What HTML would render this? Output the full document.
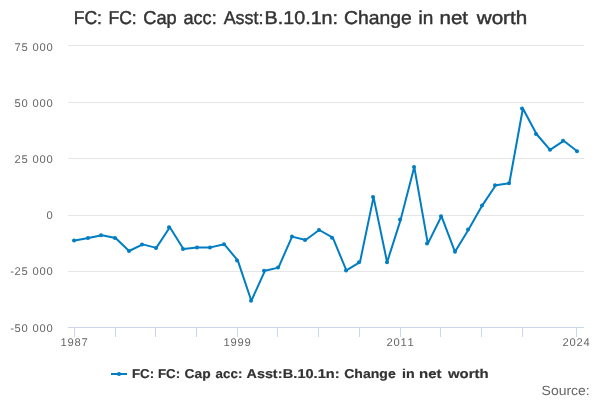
<!DOCTYPE html>
<html><head><meta charset="utf-8"><title>chart</title>
<style>
html,body{margin:0;padding:0;background:#fff;}
body{width:600px;height:400px;overflow:hidden;font-family:"Liberation Sans",sans-serif;}
svg{display:block;font-family:"Liberation Sans",sans-serif;}
text{text-rendering:geometricPrecision;}
</style></head><body>
<div style="width:600px;height:400px;will-change:transform"><svg width="600" height="400" viewBox="0 0 600 400">
<rect x="0" y="0" width="600" height="400" fill="#ffffff"/>
<g stroke="#e6e6e6" stroke-width="1" fill="none"><path d="M 68 45.5 L 584 45.5"/><path d="M 68 102.5 L 584 102.5"/><path d="M 68 158.5 L 584 158.5"/><path d="M 68 215.5 L 584 215.5"/><path d="M 68 271.5 L 584 271.5"/></g>
<g stroke="#ccd6eb" stroke-width="1" fill="none"><path d="M 74.5 328 L 74.5 337"/><path d="M 115.5 328 L 115.5 337"/><path d="M 155.5 328 L 155.5 337"/><path d="M 196.5 328 L 196.5 337"/><path d="M 237.5 328 L 237.5 337"/><path d="M 277.5 328 L 277.5 337"/><path d="M 318.5 328 L 318.5 337"/><path d="M 359.5 328 L 359.5 337"/><path d="M 400.5 328 L 400.5 337"/><path d="M 440.5 328 L 440.5 337"/><path d="M 481.5 328 L 481.5 337"/><path d="M 522.5 328 L 522.5 337"/><path d="M 576.5 328 L 576.5 337"/><path d="M 68 327.5 L 584 327.5"/></g>
<path d="M 74.79 240.50 L 88.37 238.00 L 101.95 235.20 L 115.53 238.00 L 129.11 251.00 L 142.68 244.40 L 156.26 247.90 L 169.84 227.20 L 183.42 249.00 L 197.00 247.50 L 210.58 247.40 L 224.16 244.20 L 237.74 260.40 L 251.32 300.80 L 264.89 270.80 L 278.47 267.60 L 292.05 236.60 L 305.63 240.00 L 319.21 230.00 L 332.79 237.70 L 346.37 270.40 L 359.95 262.20 L 373.53 197.10 L 387.11 262.20 L 400.68 219.60 L 414.26 166.90 L 427.84 243.60 L 441.42 216.20 L 455.00 251.80 L 468.58 229.40 L 482.16 205.60 L 495.74 185.20 L 509.32 183.20 L 522.89 108.50 L 536.47 134.00 L 550.05 149.80 L 563.63 140.80 L 577.21 151.20" fill="none" stroke="#007dc3" stroke-width="2" stroke-linejoin="round" stroke-linecap="round"/>
<g fill="#007dc3"><circle cx="74" cy="240.50" r="2"/><circle cx="88" cy="238.00" r="2"/><circle cx="101" cy="235.20" r="2"/><circle cx="115" cy="238.00" r="2"/><circle cx="129" cy="251.00" r="2"/><circle cx="142" cy="244.40" r="2"/><circle cx="156" cy="247.90" r="2"/><circle cx="169" cy="227.20" r="2"/><circle cx="183" cy="249.00" r="2"/><circle cx="197" cy="247.50" r="2"/><circle cx="210" cy="247.40" r="2"/><circle cx="224" cy="244.20" r="2"/><circle cx="237" cy="260.40" r="2"/><circle cx="251" cy="300.80" r="2"/><circle cx="264" cy="270.80" r="2"/><circle cx="278" cy="267.60" r="2"/><circle cx="292" cy="236.60" r="2"/><circle cx="305" cy="240.00" r="2"/><circle cx="319" cy="230.00" r="2"/><circle cx="332" cy="237.70" r="2"/><circle cx="346" cy="270.40" r="2"/><circle cx="359" cy="262.20" r="2"/><circle cx="373" cy="197.10" r="2"/><circle cx="387" cy="262.20" r="2"/><circle cx="400" cy="219.60" r="2"/><circle cx="414" cy="166.90" r="2"/><circle cx="427" cy="243.60" r="2"/><circle cx="441" cy="216.20" r="2"/><circle cx="455" cy="251.80" r="2"/><circle cx="468" cy="229.40" r="2"/><circle cx="482" cy="205.60" r="2"/><circle cx="495" cy="185.20" r="2"/><circle cx="509" cy="183.20" r="2"/><circle cx="522" cy="108.50" r="2"/><circle cx="536" cy="134.00" r="2"/><circle cx="550" cy="149.80" r="2"/><circle cx="563" cy="140.80" r="2"/><circle cx="577" cy="151.20" r="2"/></g>
<path d="M 111 374 L 127 374" stroke="#007dc3" stroke-width="2" fill="none"/>
<circle cx="119" cy="374" r="2" fill="#007dc3"/>
<g>
<text x="14.39 21.39 28.44 32.39 39.39 46.39" y="51" font-size="11.2px" fill="#666666">75 000</text>
<text x="14.39 21.39 28.44 32.39 39.39 46.39" y="107" font-size="11.2px" fill="#666666">50 000</text>
<text x="14.39 21.39 28.44 32.39 39.39 46.39" y="163" font-size="11.2px" fill="#666666">25 000</text>
<text x="46.39" y="219" font-size="11.2px" fill="#666666">0</text>
<text x="10.14 14.39 21.39 28.44 32.39 39.39 46.39" y="275" font-size="11.2px" fill="#666666">-25 000</text>
<text x="10.14 14.39 21.39 28.44 32.39 39.39 46.39" y="332" font-size="11.2px" fill="#666666">-50 000</text>
<text x="60.39 67.39 74.39 81.39" y="346" font-size="11.2px" fill="#666666">1987</text>
<text x="223.39 230.39 237.39 244.39" y="346" font-size="11.2px" fill="#666666">1999</text>
<text x="386.39 393.39 400.39 407.39" y="346" font-size="11.2px" fill="#666666">2011</text>
<text x="562.39 569.39 576.39 583.39" y="346" font-size="11.2px" fill="#666666">2024</text>
<text x="73.73" y="23.8" font-size="18.7px" fill="#333333" stroke="#333333" stroke-width="0.45" textLength="28.28" lengthAdjust="spacingAndGlyphs">FC:</text>
<text x="108.43" y="23.8" font-size="18.7px" fill="#333333" stroke="#333333" stroke-width="0.45" textLength="28.32" lengthAdjust="spacingAndGlyphs">FC:</text>
<text x="143.25" y="23.8" font-size="18.7px" fill="#333333" stroke="#333333" stroke-width="0.45" textLength="33.41" lengthAdjust="spacingAndGlyphs">Cap</text>
<text x="183.47" y="23.8" font-size="18.7px" fill="#333333" stroke="#333333" stroke-width="0.45" textLength="33.22" lengthAdjust="spacingAndGlyphs">acc:</text>
<text x="223.73" y="23.8" font-size="18.7px" fill="#333333" stroke="#333333" stroke-width="0.45" textLength="39.68" lengthAdjust="spacingAndGlyphs">Asst:</text>
<text x="264.62" y="23.8" font-size="18.7px" fill="#333333" stroke="#333333" stroke-width="0.45" textLength="73.47" lengthAdjust="spacingAndGlyphs">B.10.1n:</text>
<text x="344.00" y="23.8" font-size="18.7px" fill="#333333" stroke="#333333" stroke-width="0.45" textLength="67.76" lengthAdjust="spacingAndGlyphs">Change</text>
<text x="418.54" y="23.8" font-size="18.7px" fill="#333333" stroke="#333333" stroke-width="0.45" textLength="14.80" lengthAdjust="spacingAndGlyphs">in</text>
<text x="439.47" y="23.8" font-size="18.7px" fill="#333333" stroke="#333333" stroke-width="0.45" textLength="28.58" lengthAdjust="spacingAndGlyphs">net</text>
<text x="476.76" y="23.8" font-size="18.7px" fill="#333333" stroke="#333333" stroke-width="0.45" textLength="50.44" lengthAdjust="spacingAndGlyphs">worth</text>
<text x="131.98" y="378" font-size="12.8px" fill="#333333" font-weight="bold" stroke="#333333" stroke-width="0.2" textLength="22.23" lengthAdjust="spacingAndGlyphs">FC:</text>
<text x="157.98" y="378" font-size="12.8px" fill="#333333" font-weight="bold" stroke="#333333" stroke-width="0.2" textLength="22.23" lengthAdjust="spacingAndGlyphs">FC:</text>
<text x="184.54" y="378" font-size="12.8px" fill="#333333" font-weight="bold" stroke="#333333" stroke-width="0.2" textLength="26.06" lengthAdjust="spacingAndGlyphs">Cap</text>
<text x="215.63" y="378" font-size="12.8px" fill="#333333" font-weight="bold" stroke="#333333" stroke-width="0.2" textLength="26.71" lengthAdjust="spacingAndGlyphs">acc:</text>
<text x="246.58" y="378" font-size="12.8px" fill="#333333" font-weight="bold" stroke="#333333" stroke-width="0.2" textLength="35.84" lengthAdjust="spacingAndGlyphs">Asst:</text>
<text x="282.81" y="378" font-size="12.8px" fill="#333333" font-weight="bold" stroke="#333333" stroke-width="0.2" textLength="56.77" lengthAdjust="spacingAndGlyphs">B.10.1n:</text>
<text x="344.21" y="378" font-size="12.8px" fill="#333333" font-weight="bold" stroke="#333333" stroke-width="0.2" textLength="51.51" lengthAdjust="spacingAndGlyphs">Change</text>
<text x="402.14" y="378" font-size="12.8px" fill="#333333" font-weight="bold" stroke="#333333" stroke-width="0.2" textLength="12.68" lengthAdjust="spacingAndGlyphs">in</text>
<text x="419.00" y="378" font-size="12.8px" fill="#333333" font-weight="bold" stroke="#333333" stroke-width="0.2" textLength="22.44" lengthAdjust="spacingAndGlyphs">net</text>
<text x="447.96" y="378" font-size="12.8px" fill="#333333" font-weight="bold" stroke="#333333" stroke-width="0.2" textLength="40.68" lengthAdjust="spacingAndGlyphs">worth</text>
<text x="541.59" y="395" font-size="13.3px" fill="#666666" textLength="48.18" lengthAdjust="spacingAndGlyphs">Source:</text>
</g>
</svg></div>
</body></html>
